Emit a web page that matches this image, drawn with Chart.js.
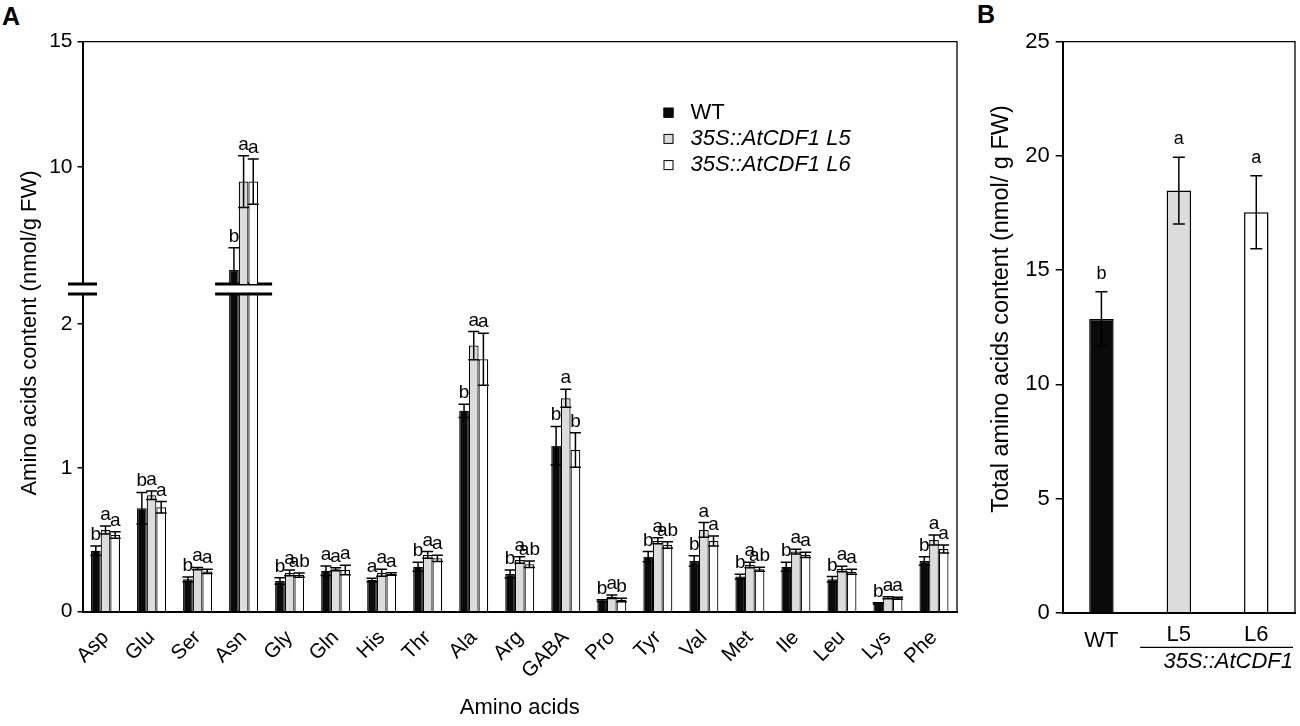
<!DOCTYPE html>
<html>
<head>
<meta charset="utf-8">
<script src="https://cdn.jsdelivr.net/npm/chart.js@4.4.1/dist/chart.umd.min.js"></script>
<style>
html,body{margin:0;padding:0;background:#fff;}
body{width:1300px;height:726px;position:relative;overflow:hidden;font-family:"Liberation Sans",Arial,sans-serif;}
canvas{position:absolute;top:0;}
.panel{position:absolute;font-weight:bold;font-size:25px;line-height:25px;color:#000;}
</style>
</head>
<body>
<div class="panel" style="left:2px;top:4px">A</div>
<div class="panel" style="left:977px;top:2px">B</div>
<canvas id="cA2" width="975" height="726" style="left:0"></canvas>
<canvas id="cA1" width="975" height="726" style="left:0"></canvas>
<canvas id="cB" width="325" height="726" style="left:975px"></canvas>
<script>
// ---------------- data ----------------
const categories = ['Asp','Glu','Ser','Asn','Gly','Gln','His','Thr','Ala','Arg','GABA','Pro','Tyr','Val','Met','Ile','Leu','Lys','Phe'];
const seriesLabels = ['WT', '35S::AtCDF1 L5', '35S::AtCDF1 L6'];

const wtValues  = [0.424, 0.72, 0.225, 5.91, 0.214, 0.285, 0.22, 0.313, 1.397, 0.262, 1.155, 0.077, 0.383, 0.353, 0.244, 0.313, 0.225, 0.058, 0.353];
const wtErrors  = [0.033, 0.11, 0.016, 0.88, 0.023, 0.033, 0.012, 0.031, 0.046, 0.028, 0.134, 0.006, 0.035, 0.037, 0.016, 0.031, 0.019, 0.004, 0.030];
const wtLetters = ['b','b','b','b','b','a','a','b','b','b','b','b','b','b','b','b','b','b','b'];

const l5Values  = [0.568, 0.81, 0.30, 9.43, 0.27, 0.295, 0.271, 0.395, 1.851, 0.36, 1.485, 0.104, 0.494, 0.569, 0.325, 0.418, 0.297, 0.097, 0.499];
const l5Errors  = [0.028, 0.03, 0.008, 1.03, 0.02, 0.011, 0.024, 0.023, 0.098, 0.023, 0.063, 0.012, 0.021, 0.051, 0.019, 0.016, 0.019, 0.007, 0.035];
const l5Letters = ['a','a','a','a','a','a','a','a','a','a','a','a','a','a','a','a','a','a','a'];

const l6Values  = [0.534, 0.726, 0.28, 9.43, 0.255, 0.29, 0.262, 0.371, 1.756, 0.33, 1.125, 0.081, 0.464, 0.492, 0.295, 0.395, 0.278, 0.093, 0.436];
const l6Errors  = [0.023, 0.04, 0.015, 0.90, 0.015, 0.033, 0.009, 0.021, 0.181, 0.023, 0.12, 0.012, 0.023, 0.035, 0.014, 0.018, 0.017, 0.007, 0.028];
const l6Letters = ['a','a','a','a','ab','a','a','a','a','ab','b','b','ab','a','ab','a','a','a','a'];

const lowerAxisTicks = [0, 1, 2];
const upperAxisTicks = [10, 15];

const totalCategories = ['WT', 'L5', 'L6'];
const totalValues  = [12.86, 18.48, 17.53];
const totalErrors  = [1.19, 1.46, 1.60];
const totalLetters = ['b', 'a', 'a'];
const totalAxisTicks = [0, 5, 10, 15, 20, 25];

const transgenicLabel = '35S::AtCDF1';
const titleAy = 'Amino acids content (nmol/g FW)';
const titleAx = 'Amino acids';
const titleBy = 'Total amino acids content (nmol/ g FW)';

// ---------------- styles ----------------
const seriesColors = ['#0a0a0a', '#dcdcdc', '#ffffff'];
const FONT = "'Liberation Sans', Arial, sans-serif";
Chart.defaults.font.family = FONT;
Chart.defaults.color = '#000';

function makeSeries() {
  const vals = [wtValues, l5Values, l6Values];
  const errs = [wtErrors, l5Errors, l6Errors];
  const lets = [wtLetters, l5Letters, l6Letters];
  return seriesLabels.map((label, i) => ({
    label, data: vals[i], errors: errs[i], letters: lets[i],
    backgroundColor: seriesColors[i], borderColor: '#000', borderWidth: 1.2,
    borderSkipped: 'start', categoryPercentage: 0.63, barPercentage: 1, clip: 0
  }));
}

function makeErrorPlugin(o) {
  return {
    id: 'errorBars',
    afterDatasetsDraw(chart) {
      const {ctx, chartArea: ca} = chart;
      const ys = chart.scales.y;
      chart.data.datasets.forEach((ds, i) => {
        const meta = chart.getDatasetMeta(i);
        ds.data.forEach((v, j) => {
          if (v < ys.min || v > ys.max) return;
          const e = ds.errors[j];
          const x = meta.data[j].x;
          const yTop = ys.getPixelForValue(v + e);
          const yBot = ys.getPixelForValue(v - e);
          ctx.save();
          ctx.beginPath();
          ctx.rect(ca.left, ca.top, ca.right - ca.left, ca.bottom - ca.top);
          ctx.clip();
          ctx.strokeStyle = '#000';
          ctx.lineWidth = o.lineWidth;
          ctx.beginPath();
          ctx.moveTo(x, yTop); ctx.lineTo(x, yBot);
          ctx.moveTo(x - o.cap, yTop); ctx.lineTo(x + o.cap, yTop);
          ctx.moveTo(x - o.cap, yBot); ctx.lineTo(x + o.cap, yBot);
          ctx.stroke();
          ctx.restore();
          ctx.save();
          ctx.fillStyle = '#000';
          ctx.font = o.font;
          ctx.textAlign = 'center';
          ctx.textBaseline = 'alphabetic';
          ctx.fillText(ds.letters[j], x, yTop - o.gap);
          ctx.restore();
        });
      });
    }
  };
}

function setTicks(arr) { return s => { s.ticks = arr.map(v => ({value: v})); }; }

const yCommonA = {
  ticks: {font: {size: 21}, padding: 5, color: '#000'},
  grid: {display: true, drawOnChartArea: false, drawTicks: true, tickLength: 5, color: '#000', lineWidth: 1.5},
  border: {display: true, color: '#000', width: 2},
  afterFit: s => { s.width = 82.5; }
};

// ---------------- Panel A, upper segment ----------------
new Chart(document.getElementById('cA1'), {
  type: 'bar',
  data: {labels: categories, datasets: makeSeries()},
  options: {
    responsive: false, animation: false,
    layout: {padding: {left: 0, right: 18, top: 41.7, bottom: 442}},
    plugins: {legend: {display: false}, tooltip: {enabled: false}},
    scales: {
      x: {display: false},
      y: Object.assign({}, yCommonA, {min: 5.35, max: 15, afterBuildTicks: setTicks(upperAxisTicks)})
    }
  },
  plugins: [makeErrorPlugin({cap: 5.5, gap: 6, lineWidth: 1.5, font: '19px ' + FONT}), {
    id: 'frameUp',
    afterDraw(chart) {
      const {ctx, chartArea: ca} = chart;
      ctx.save();
      ctx.strokeStyle = '#000';
      ctx.lineWidth = 1.3;
      ctx.beginPath();
      ctx.moveTo(ca.left, ca.top); ctx.lineTo(ca.right, ca.top); ctx.lineTo(ca.right, ca.bottom);
      ctx.stroke();
      // legend
      const lx = ca.left + 581, ly = 112.7, dy = 26.2;
      chart.data.datasets.forEach((ds, i) => {
        const y = ly + i * dy;
        ctx.fillStyle = ds.backgroundColor;
        ctx.fillRect(lx, y - 5, 10, 10);
        ctx.lineWidth = 1;
        ctx.strokeRect(lx + 0.5, y - 4.5, 9, 9);
        ctx.fillStyle = '#000';
        ctx.font = (/::/.test(ds.label) ? 'italic ' : '') + '22px ' + FONT;
        ctx.textAlign = 'left';
        ctx.textBaseline = 'middle';
        ctx.fillText(ds.label, lx + 27, y);
      });
      ctx.restore();
    }
  }]
});

// ---------------- Panel A, lower segment ----------------
new Chart(document.getElementById('cA2'), {
  type: 'bar',
  data: {labels: categories, datasets: makeSeries()},
  options: {
    responsive: false, animation: false,
    layout: {padding: {left: 0, right: 18, top: 294, bottom: 0}},
    plugins: {legend: {display: false}, tooltip: {enabled: false}},
    scales: {
      x: {
        grid: {display: false, drawTicks: false},
        border: {display: true, color: '#000', width: 2},
        ticks: {autoSkip: false, minRotation: 45, maxRotation: 45, padding: 14, font: {size: 20.5}, color: '#000'},
        title: {display: true, text: titleAx, font: {size: 22}, padding: {top: 0, bottom: 5}, color: '#000'},
        afterFit: s => { s.height = 114.3; }
      },
      y: Object.assign({}, yCommonA, {min: 0, max: 2.21, afterBuildTicks: setTicks(lowerAxisTicks)})
    }
  },
  plugins: [makeErrorPlugin({cap: 5.5, gap: 6, lineWidth: 1.5, font: '19px ' + FONT}), {
    id: 'frameLow',
    afterDraw(chart) {
      const {ctx, chartArea: ca} = chart;
      const ys = chart.scales.y;
      const gapPx = 10;
      ctx.save();
      ctx.strokeStyle = '#000';
      ctx.lineWidth = 1.3;
      ctx.beginPath();
      ctx.moveTo(ca.right, ca.top - gapPx); ctx.lineTo(ca.right, ca.bottom);
      ctx.stroke();
      // axis break marks
      ctx.lineWidth = 3;
      const breakY = [ca.top - gapPx, ca.top];
      const spans = [[ca.left - 14.5, ca.left + 14.5]];
      categories.forEach((c, j) => {
        const over = chart.data.datasets.some(ds => ds.data[j] > ys.max);
        if (!over) return;
        const first = chart.getDatasetMeta(0).data[j];
        const last = chart.getDatasetMeta(chart.data.datasets.length - 1).data[j];
        spans.push([first.x - first.width / 2 - 14, last.x + last.width / 2 + 14]);
      });
      ctx.beginPath();
      spans.forEach(sp => breakY.forEach(y => { ctx.moveTo(sp[0], y); ctx.lineTo(sp[1], y); }));
      ctx.stroke();
      // y axis title spanning both segments
      ctx.fillStyle = '#000';
      ctx.font = '22px ' + FONT;
      ctx.translate(30, 333);
      ctx.rotate(-Math.PI / 2);
      ctx.textAlign = 'center';
      ctx.textBaseline = 'middle';
      ctx.fillText(titleAy, 0, 0);
      ctx.restore();
    }
  }]
});

// ---------------- Panel B ----------------
new Chart(document.getElementById('cB'), {
  type: 'bar',
  data: {
    labels: totalCategories,
    datasets: [{
      label: 'Total', data: totalValues, errors: totalErrors, letters: totalLetters,
      backgroundColor: seriesColors, borderColor: '#000', borderWidth: 1.5,
      borderSkipped: 'start', categoryPercentage: 1, barPercentage: 0.316, clip: 0
    }]
  },
  options: {
    responsive: false, animation: false,
    layout: {padding: {left: 0, right: 5, top: 41.7, bottom: 0}},
    plugins: {legend: {display: false}, tooltip: {enabled: false}},
    scales: {
      x: {
        grid: {display: false, drawTicks: false},
        border: {display: true, color: '#000', width: 2},
        ticks: {padding: 8.8, color: '#000', font: c => ({size: 22, lineHeight: c.index === 0 ? 1.8 : 1.2})},
        afterFit: s => { s.height = 113.3; }
      },
      y: {
        min: 0, max: 25, afterBuildTicks: setTicks(totalAxisTicks),
        ticks: {font: {size: 22}, padding: 6, color: '#000'},
        grid: {display: true, drawOnChartArea: false, drawTicks: true, tickLength: 7, color: '#000', lineWidth: 1.5},
        border: {display: true, color: '#000', width: 2},
        afterFit: s => { s.width = 87.7; }
      }
    }
  },
  plugins: [makeErrorPlugin({cap: 6, gap: 13, lineWidth: 1.5, font: '18px ' + FONT}), {
    id: 'frameB',
    afterDraw(chart) {
      const {ctx, chartArea: ca} = chart;
      const xs = chart.scales.x;
      ctx.save();
      ctx.strokeStyle = '#000';
      ctx.lineWidth = 1.3;
      ctx.beginPath();
      ctx.moveTo(ca.left, ca.top); ctx.lineTo(ca.right, ca.top); ctx.lineTo(ca.right, ca.bottom);
      ctx.stroke();
      // group line and italic label for transgenic lines
      const x0 = xs.getPixelForValue(0.5), x1 = ca.right - 2;
      ctx.lineWidth = 1.3;
      ctx.beginPath();
      ctx.moveTo(x0, ca.bottom + 34.6); ctx.lineTo(x1, ca.bottom + 34.6);
      ctx.stroke();
      ctx.fillStyle = '#000';
      ctx.font = 'italic 22px ' + FONT;
      ctx.textAlign = 'right';
      ctx.textBaseline = 'middle';
      ctx.fillText(transgenicLabel, x1, ca.bottom + 49);
      // y axis title
      ctx.font = '23.5px ' + FONT;
      ctx.translate(26.7, 309);
      ctx.rotate(-Math.PI / 2);
      ctx.textAlign = 'center';
      ctx.fillText(titleBy, 0, 0);
      ctx.restore();
    }
  }]
});
</script>
</body>
</html>
